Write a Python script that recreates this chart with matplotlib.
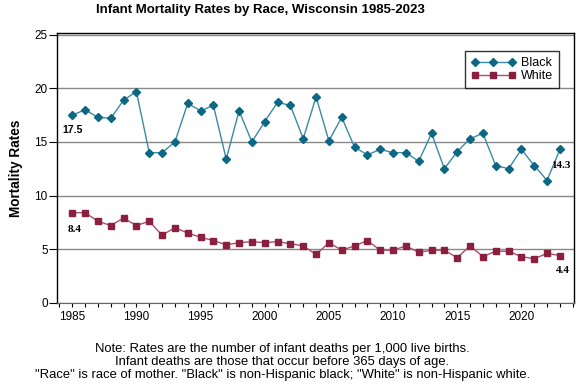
import matplotlib
matplotlib.use("Agg")
import matplotlib.pyplot as plt
from matplotlib.ticker import MultipleLocator

# Infant mortality rates (per 1,000 live births), Wisconsin
years = list(range(1985, 2024))
black = [17.5, 18.0, 17.3, 17.2, 18.9, 19.7, 14.0, 14.0, 15.0, 18.6,
         17.9, 18.4, 13.4, 17.9, 15.0, 16.9, 18.7, 18.4, 15.3, 19.2,
         15.1, 17.3, 14.5, 13.8, 14.3, 14.0, 14.0, 13.2, 15.8, 12.5,
         14.1, 15.3, 15.8, 12.8, 12.5, 14.3, 12.8, 11.4, 14.3]
white = [8.4, 8.4, 7.6, 7.2, 7.9, 7.2, 7.6, 6.3, 7.0, 6.5,
         6.1, 5.8, 5.4, 5.6, 5.7, 5.6, 5.7, 5.5, 5.3, 4.5,
         5.6, 4.9, 5.3, 5.8, 4.9, 4.9, 5.3, 4.7, 4.9, 4.9,
         4.2, 5.3, 4.3, 4.8, 4.8, 4.3, 4.1, 4.6, 4.4]

title = "Infant Mortality Rates by Race, Wisconsin 1985-2023"
note = ("Note: Rates are the number of infant deaths per 1,000 live births.\n"
        "Infant deaths are those that occur before 365 days of age.\n"
        "\"Race\" is race of mother. \"Black\" is non-Hispanic black; "
        "\"White\" is non-Hispanic white.")

plt.rcParams['font.family'] = ['Liberation Sans', 'DejaVu Sans']

fig = plt.figure(figsize=(5.76, 3.84), dpi=100)
ax = fig.add_axes([0.0998, 0.2117, 0.8967, 0.7023])

teal = '#0b6783'
maroon = '#8a1f3e'

ax.plot(years, black, color='#3a8aa3', lw=1.0, marker='D', ms=4.2,
        mfc=teal, mec=teal, label='Black', zorder=3)
ax.plot(years, white, color='#a4506b', lw=1.0, marker='s', ms=4.6,
        mfc=maroon, mec=maroon, label='White', zorder=3)

# end-point labels
ax.annotate(f"{black[0]}", (years[0], black[0]), xytext=(0, -11),
            textcoords='offset points', ha='center', va='center',
            fontsize=7.5, fontweight='bold')
ax.annotate(f"{white[0]}", (years[0], white[0]), xytext=(1.5, -12),
            textcoords='offset points', ha='center', va='center',
            fontsize=8, fontweight='bold', family='Liberation Serif')
ax.annotate(f"{black[-1]}", (years[-1], black[-1]), xytext=(0.5, -11.5),
            textcoords='offset points', ha='center', va='center',
            fontsize=8, fontweight='bold', family='Liberation Serif')
ax.annotate(f"{white[-1]}", (years[-1], white[-1]), xytext=(2.5, -11),
            textcoords='offset points', ha='center', va='center',
            fontsize=8, fontweight='bold', family='Liberation Serif')

ax.set_xlim(1983.85, 2024.1)
ax.set_ylim(0, 25.16)
ax.xaxis.set_major_locator(MultipleLocator(5))
ax.xaxis.set_minor_locator(MultipleLocator(1))
ax.yaxis.set_major_locator(MultipleLocator(5))
ax.tick_params(axis='x', which='both', length=3, width=0.8, labelsize=8.5, pad=3)
ax.tick_params(axis='y', length=6, width=0.8, labelsize=8.5, pad=1)

ax.grid(axis='y', color='#888888', lw=1.0)
ax.set_axisbelow(True)
for s in ['top', 'left', 'right']:
    ax.spines[s].set_color('black')
    ax.spines[s].set_linewidth(1.0)
ax.spines['bottom'].set_color('#666666')

ax.set_ylabel("Mortality Rates", fontsize=9.8, fontweight='bold', labelpad=8)

leg = ax.legend(loc='upper right', bbox_to_anchor=(0.9705, 0.932), numpoints=3,
                fontsize=9, frameon=True, fancybox=False, handlelength=3.6,
                handletextpad=0.4, borderpad=0.45, labelspacing=0.1,
                borderaxespad=0)
leg.get_frame().set_edgecolor('black')
leg.get_frame().set_linewidth(1.0)

fig.text(0.453, 0.973, title, ha='center', va='center', fontsize=9.5,
         fontweight='bold')
fig.text(0.49, 0.058, note, ha='center', va='center', fontsize=9.4,
         linespacing=1.1)

fig.savefig("out.png", dpi=100)
